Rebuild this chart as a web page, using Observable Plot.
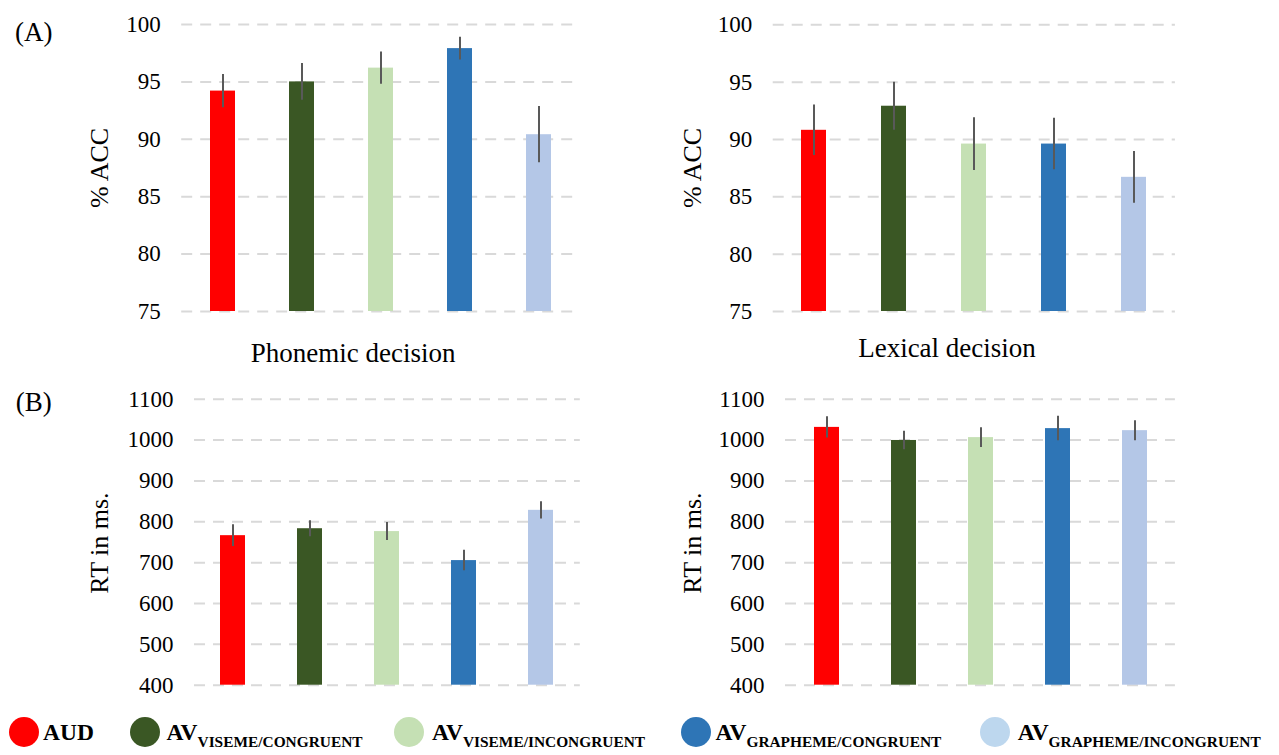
<!DOCTYPE html>
<html>
<head>
<meta charset="utf-8">
<script src="https://cdn.jsdelivr.net/npm/d3@7"></script>
<script src="https://cdn.jsdelivr.net/npm/@observablehq/plot@0.6"></script>
<style>
  html, body { margin: 0; padding: 0; background: #fff; }
  #page { position: relative; width: 1279px; height: 755px; overflow: hidden; font-family: "Liberation Serif", "Times New Roman", serif; color: #000; }
  .txt { position: absolute; white-space: nowrap; font-size: 27px; line-height: 1; }
  .ytl { font-size: 26px; }
  .lg { position: absolute; white-space: nowrap; font-weight: bold; font-size: 23.5px; line-height: 1; }
  .lg sub { font-size: 15.4px; vertical-align: baseline; position: relative; top: 6.5px; }
  .dot { position: absolute; width: 30px; height: 30px; border-radius: 50%; }
</style>
</head>
<body>
<div id="page"></div>
<script>
// ---------- data ----------
const conditions = ["AUD", "AV viseme/congruent", "AV viseme/incongruent", "AV grapheme/congruent", "AV grapheme/incongruent"];
const barColors = ["#FF0000", "#3A5724", "#C5E0B4", "#2E75B6", "#B4C7E7"];
const legendColors = ["#FF0000", "#3A5724", "#C5E0B4", "#2E75B6", "#BDD7EE"];
const legendMain = ["AUD", "AV", "AV", "AV", "AV"];
const legendSub = ["", "VISEME/CONGRUENT", "VISEME/INCONGRUENT", "GRAPHEME/CONGRUENT", "GRAPHEME/INCONGRUENT"];

const accTicks = [75, 80, 85, 90, 95, 100];
const rtTicks = [400, 500, 600, 700, 800, 900, 1000, 1100];

const phonemicAcc = [94.2, 95.0, 96.2, 97.9, 90.4];
const phonemicAccErr = [1.45, 1.6, 1.4, 1.0, 2.45];
const lexicalAcc = [90.8, 92.9, 89.6, 89.6, 86.7];
const lexicalAccErr = [2.2, 2.1, 2.3, 2.25, 2.25];
const phonemicRT = [766, 783, 776, 705, 828];
const phonemicRTErr = [26.5, 19.5, 22, 25, 21];
const lexicalRT = [1031, 999, 1006, 1028, 1023];
const lexicalRTErr = [26, 22.5, 24, 30, 24.5];

const page = document.getElementById("page");

function panel({values, errs, ticks, left, top, width, height, mL, mR, mT, mB}) {
  const data = conditions.map((c, i) => ({c, v: values[i], lo: values[i] - errs[i], hi: values[i] + errs[i], col: barColors[i]}));
  const step = (width - mL - mR) / conditions.length;
  const pin = 1 - 25 / step;
  const chart = Plot.plot({
    width, height,
    marginLeft: mL, marginRight: mR, marginTop: mT, marginBottom: mB,
    style: {fontFamily: '"Liberation Serif", "Times New Roman", serif', fontSize: "23px", color: "#000", background: "transparent", overflow: "visible"},
    x: {domain: conditions, paddingInner: pin, paddingOuter: pin / 2, axis: null},
    y: {domain: [ticks[0], ticks[ticks.length - 1]]},
    marks: [
      Plot.ruleY(ticks, {stroke: "#D9D9D9", strokeWidth: 2, strokeDasharray: "11,8"}),
      Plot.barY(data, {x: "c", y1: ticks[0], y2: "v", fill: "col"}),
      Plot.ruleX(data, {x: "c", y1: "lo", y2: "hi", stroke: "#595959", strokeWidth: 2}),
      Plot.axisY({ticks, tickSize: 0, tickPadding: 21, label: null, tickFormat: d => String(d), fill: "#000"})
    ]
  });
  chart.style.position = "absolute";
  chart.style.left = left + "px";
  chart.style.top = top + "px";
  page.appendChild(chart);
}

panel({values: phonemicAcc, errs: phonemicAccErr, ticks: accTicks, left: 0, top: 0, width: 640, height: 380, mL: 181.2, mR: 60.8, mT: 24, mB: 69});
panel({values: lexicalAcc, errs: lexicalAccErr, ticks: accTicks, left: 640, top: 0, width: 639, height: 380, mL: 132.7, mR: 104.1, mT: 24.3, mB: 69});
panel({values: phonemicRT, errs: phonemicRTErr, ticks: rtTicks, left: 0, top: 380, width: 640, height: 320, mL: 194, mR: 60.2, mT: 18.7, mB: 15.3});
panel({values: lexicalRT, errs: lexicalRTErr, ticks: rtTicks, left: 640, top: 380, width: 639, height: 320, mL: 145, mR: 104.1, mT: 18.7, mB: 15.3});

// ---------- text ----------
function label(text, cx, cy, rotate) {
  const d = document.createElement("div");
  d.className = "txt" + (rotate ? " ytl" : "");
  d.textContent = text;
  d.style.left = cx + "px";
  d.style.top = cy + "px";
  d.style.transform = "translate(-50%,-50%)" + (rotate ? " rotate(-90deg)" : "");
  page.appendChild(d);
}
label("(A)", 33.7, 32);
label("(B)", 33.7, 402);
label("% ACC", 100.4, 168, true);
label("% ACC", 693, 168, true);
label("RT in ms.", 100, 543, true);
label("RT in ms.", 693, 543, true);
label("Phonemic decision", 353.2, 353);
label("Lexical decision", 947, 348);

// ---------- legend ----------
const legendDotX = [23.5, 144.5, 409.4, 695.5, 994.8];
const legendTextX = [43, 166.6, 432, 715.5, 1017.7];
conditions.forEach((c, i) => {
  const dot = document.createElement("div");
  dot.className = "dot";
  dot.style.background = legendColors[i];
  dot.style.left = (legendDotX[i] - 15) + "px";
  dot.style.top = (731.7 - 15) + "px";
  page.appendChild(dot);
  const t = document.createElement("div");
  t.className = "lg";
  t.innerHTML = legendMain[i] + (legendSub[i] ? `<sub>${legendSub[i]}</sub>` : "");
  t.style.left = legendTextX[i] + "px";
  t.style.top = "733px";
  t.style.transform = "translateY(-50%)";
  page.appendChild(t);
});
</script>
</body>
</html>
